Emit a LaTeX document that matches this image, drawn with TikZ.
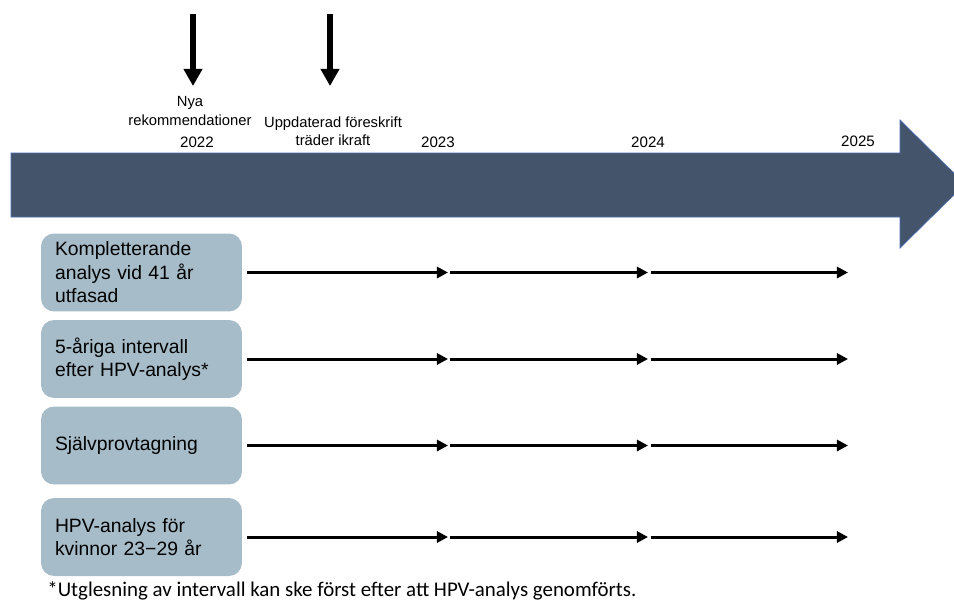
\documentclass[tikz,border=0pt]{standalone}
\usepackage{fontspec}
\setmainfont{Liberation Sans}
\newfontfamily\notefont{Carlito}
\usetikzlibrary{arrows.meta}
\definecolor{bandcol}{HTML}{44546A}
\definecolor{bandline}{HTML}{4A6FB0}
\definecolor{boxcol}{HTML}{A6BCC8}
\begin{document}
\begin{tikzpicture}[x=0.02cm,y=-0.02cm,
  box/.style={fill=boxcol, rounded corners=7.4pt, minimum width=4.02cm, minimum height=1.56cm,
    text width=3.46cm, inner xsep=0.28cm, align=left, font=\fontsize{11}{13.4}\selectfont},
  yearlbl/.style={font=\fontsize{8.6}{10.3}\selectfont, anchor=base, inner sep=0pt},
  toplbl/.style={font=\fontsize{8.4}{10.3}\selectfont, align=center, inner sep=0pt},
  downarr/.style={line width=3.2pt, -{Triangle[length=9.7pt,width=10.2pt]}},
  rowarr/.style={line width=1.7pt, -{Triangle[length=6.3pt,width=6.3pt]}}]
\clip (0,0) rectangle (954,599);
\fill[white] (0,0) rectangle (954,599);
% big timeline arrow
\filldraw[fill=bandcol, draw=bandline, line width=0.4pt]
  (11,153) -- (900,153) -- (900,120) -- (965,184) -- (900,248) -- (900,217) -- (11,217) -- cycle;
% top markers
\coordinate (m1s) at (193,14);
\coordinate (m1e) at (193,86);
\coordinate (m2s) at (330,14);
\coordinate (m2e) at (330,86);
\draw[downarr] (m1s) -- (m1e);
\draw[downarr] (m2s) -- (m2e);
\node[toplbl] (nya) at (190,111) {Nya\\rekommendationer};
\node[toplbl] (upp) at (333,131) {Uppdaterad föreskrift\\träder ikraft};
\node[yearlbl] (y22) at (197,147) {2022};
\node[yearlbl] (y23) at (438,147) {2023};
\node[yearlbl] (y24) at (648,147) {2024};
\node[yearlbl] (y25) at (858,146) {2025};
% boxes
\node[box] (b1) at (141.5,272.5) {Kompletterande\\analys vid 41 år\\utfasad};
\node[box] (b2) at (141.5,359) {5-åriga intervall\\efter HPV-analys*};
\node[box] (b3) at (141.5,445.5) {Självprovtagning};
\node[box] (b4) at (141.5,537) {HPV-analys för\\kvinnor 23−29 år};
% row arrows
\foreach \r/\y in {1/272.5,2/359,3/445.5,4/537}{
  \coordinate (r\r a) at (448,\y);
  \coordinate (r\r b) at (450,\y);
  \coordinate (r\r c) at (648,\y);
  \coordinate (r\r d) at (651,\y);
  \coordinate (r\r e) at (848,\y);
  \draw[rowarr] ([xshift=0.1cm]b\r.east) -- (r\r a);
  \draw[rowarr] (r\r b) -- (r\r c);
  \draw[rowarr] (r\r d) -- (r\r e);
}
% footnote
\node[font=\notefont\fontsize{11.9}{14}\selectfont, anchor=base west, inner sep=0pt] (note) at (47,596)
  {*Utglesning av intervall kan ske först efter att HPV-analys genomförts.};
\end{tikzpicture}
\end{document}
